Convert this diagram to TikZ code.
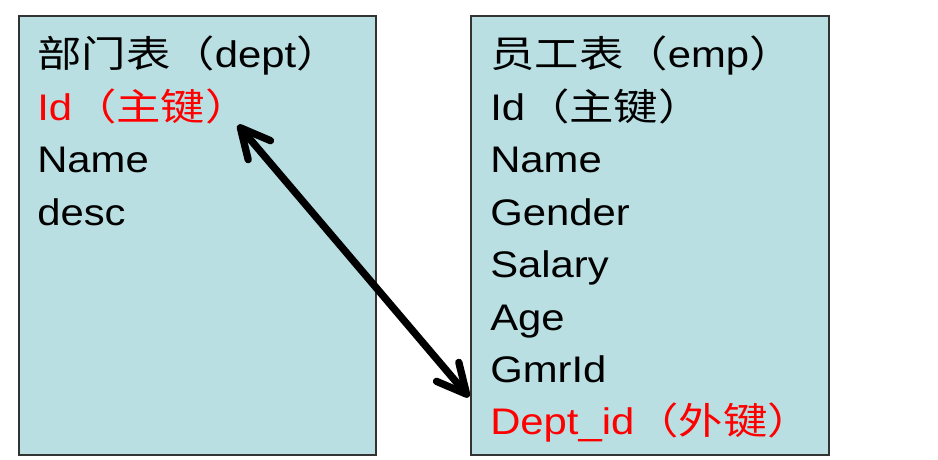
\documentclass[tikz,border=0pt]{standalone}
\usepackage{fontspec}
\setmainfont{Liberation Sans}[FakeStretch=1.13]
\newfontfamily\cjk{Noto Sans CJK SC}[FakeStretch=1.2]
\usetikzlibrary{arrows.meta}
\newcommand{\zh}[1]{{\cjk #1}}
\definecolor{boxfill}{HTML}{B9DFE2}
\definecolor{boxline}{HTML}{333333}
\tikzset{
  fkbarb/.tip={Straight Barb[length=22pt,width=22pt,line width=5.5pt,round]},
  tbl/.style={draw=boxline,line width=1.5pt,fill=boxfill},
  row/.style={anchor=base west,inner sep=0pt,font=\fontsize{27.75}{30}\selectfont},
  key/.style={row,text=red},
  arr/.style={line width=5.5pt,line cap=round,fkbarb-fkbarb}
}
\begin{document}
\begin{tikzpicture}[x=0.75pt,y=-0.75pt]
\useasboundingbox (0,0) rectangle (938,460);
\node[tbl,minimum width=357*0.75pt,minimum height=439*0.75pt,anchor=north west,inner sep=0pt] (dept) at (18,15) {};
\node[tbl,minimum width=358*0.75pt,minimum height=439*0.75pt,anchor=north west,inner sep=0pt] (emp) at (470,15) {};
% dept table
\node[row] (d0) at (37,68) {\zh{部门表（}dept\zh{）}};
\node[key] (d1) at (37,120.4) {Id\zh{（主键）}};
\node[row] (d2) at (37,172.8) {Name};
\node[row] (d3) at (37,225.2) {desc};
% emp table
\node[row] (e0) at (490,68) {\zh{员工表（}emp\zh{）}};
\node[row] (e1) at (490,120.4) {Id\zh{（主键）}};
\node[row] (e2) at (490,172.8) {Name};
\node[row] (e3) at (490,225.2) {Gender};
\node[row] (e4) at (490,277.6) {Salary};
\node[row] (e5) at (490,330) {Age};
\node[row] (e6) at (490,382.4) {GmrId};
\node[key] (e7) at (490,434.8) {Dept\_id\zh{（外键）}};
% relation arrow
\coordinate (pk) at (238,125);
\coordinate (fk) at (469,397);
\draw[arr] (pk) -- (fk);
\end{tikzpicture}
\end{document}
